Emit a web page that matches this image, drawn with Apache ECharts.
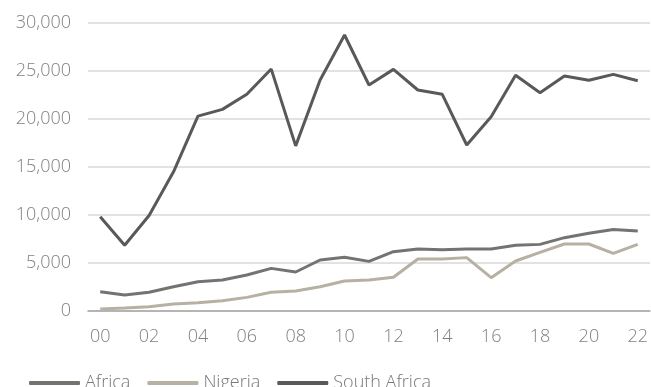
<!DOCTYPE html>
<html><head><meta charset="utf-8">
<script src="https://cdn.jsdelivr.net/npm/echarts@6/dist/echarts.min.js"></script>
<style>html,body{margin:0;padding:0;background:#fff}#c{width:651px;height:387px}</style>
</head><body><div id="c"></div>
<script>
const years = ['00','01','02','03','04','05','06','07','08','09','10','11','12','13','14','15','16','17','18','19','20','21','22'];
const africa = [2010,1670,1950,2530,3050,3230,3750,4440,4060,5310,5590,5170,6180,6460,6390,6460,6460,6840,6940,7640,8090,8500,8330];
const nigeria = [200,300,450,730,870,1070,1420,1950,2080,2530,3120,3230,3510,5420,5420,5560,3470,5210,6110,6980,6980,6010,6940];
const southAfrica = [9820,6850,9950,14500,20300,21000,22570,25200,17200,24060,28750,23540,25170,23020,22570,17290,20240,24550,22740,24480,24030,24650,23990];
const yTicks = {min:0, max:30000, interval:5000};

const font = "'Open Sans', 'Noto Sans', sans-serif";
const chart = echarts.init(document.getElementById('c'));
chart.setOption({
  animation:false,
  textStyle:{fontFamily:font},
  grid:{left:88, right:0, top:23, bottom:76},
  legend:{
    bottom:-10, left:24,
    icon:'roundRect', itemWidth:51, itemHeight:4, itemGap:17,
    textStyle:{fontFamily:font, fontSize:18, fontWeight:300, color:'#777'},
    data:['Africa','Nigeria','South Africa']
  },
  xAxis:{
    type:'category', data:years, boundaryGap:true,
    axisLine:{lineStyle:{color:'#a6a6a6', width:1.5}},
    axisTick:{show:false},
    axisLabel:{interval:1, color:'#808080', fontSize:18, fontWeight:300, fontFamily:font, margin:17}
  },
  yAxis:{
    type:'value', min:yTicks.min, max:yTicks.max, interval:yTicks.interval,
    axisLine:{show:false}, axisTick:{show:false},
    splitLine:{lineStyle:{color:'#d9d9d9', width:1.5}},
    axisLabel:{color:'#808080', fontSize:18, fontWeight:300, fontFamily:font, margin:17,
      formatter:v=>v.toLocaleString('en-US')}
  },
  series:[
    {name:'Africa', type:'line', data:africa, symbol:'none', lineStyle:{color:'#747370', width:3}, itemStyle:{color:'#747370'}},
    {name:'Nigeria', type:'line', data:nigeria, symbol:'none', lineStyle:{color:'#b6b1a3', width:3}, itemStyle:{color:'#b6b1a3'}},
    {name:'South Africa', type:'line', data:southAfrica, symbol:'none', lineStyle:{color:'#595959', width:3}, itemStyle:{color:'#595959'}}
  ]
});
</script></body></html>
